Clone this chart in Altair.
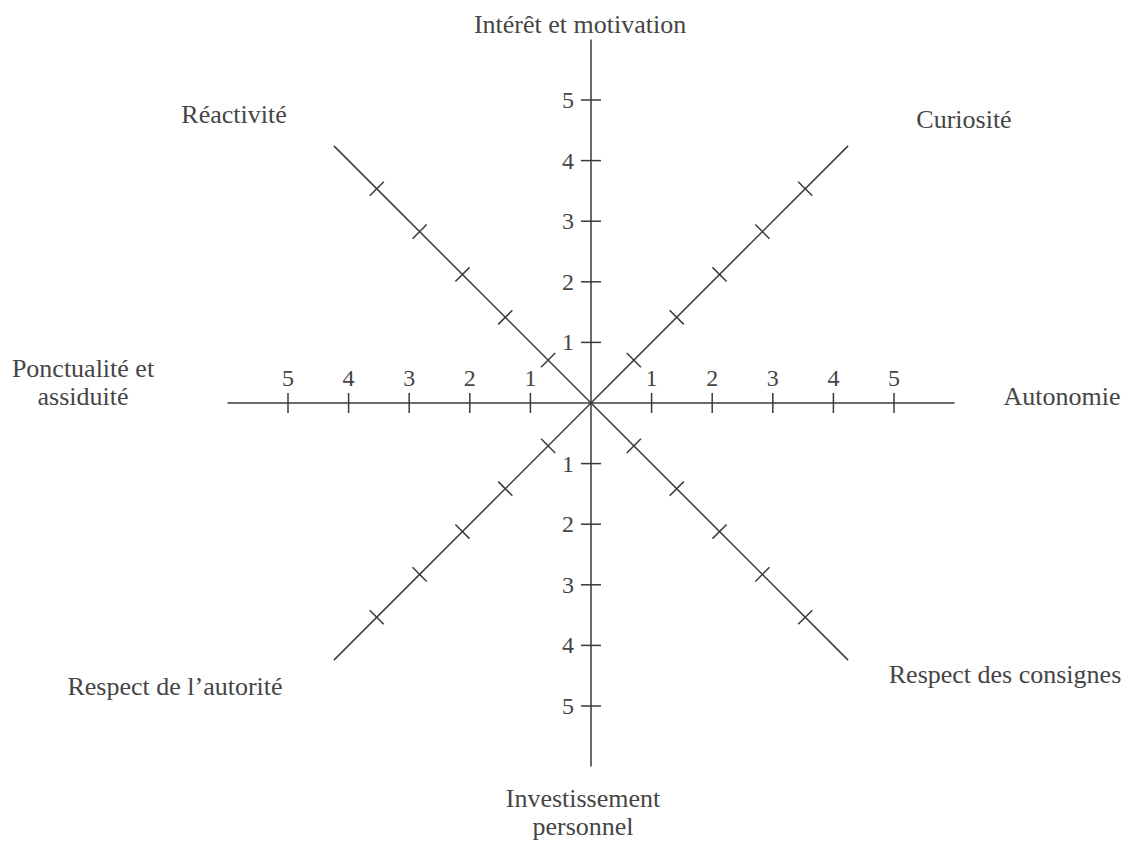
import altair as alt
import numpy as np
import pandas as pd

# ---- data ----
categories = [
    "Intérêt et motivation",
    "Curiosité",
    "Autonomie",
    "Respect des consignes",
    "Investissement\npersonnel",
    "Respect de l’autorité",
    "Ponctualité et\nassiduité",
    "Réactivité",
]
angles_deg = [90, 45, 0, -45, -90, -135, 180, 135]
tick_values = [1, 2, 3, 4, 5]
axis_length = 6
horizontal_axes = ["Autonomie", "Ponctualité et\nassiduité"]
vertical_axes = ["Intérêt et motivation", "Investissement\npersonnel"]

# ---- layout (pixels on the page) ----
PX = 60.6            # pixels per unit
CX, CY = 591, 403    # centre of the diagram on the page
W, H = 1114, 832
label_anchor_px = {
    "Intérêt et motivation": (580, 33),
    "Curiosité": (964, 128),
    "Autonomie": (1062, 405),
    "Respect des consignes": (1005, 683),
    "Investissement\npersonnel": (583, 807),
    "Respect de l’autorité": (175, 695),
    "Ponctualité et\nassiduité": (83, 377),
    "Réactivité": (234, 123),
}

def to_ux(px):
    return (px - CX) / PX

def to_uy(py):
    return (CY - py) / PX

x_dom = [to_ux(8), to_ux(8 + W)]
y_dom = [to_uy(8 + H), to_uy(8)]
xs = alt.Scale(domain=x_dom, nice=False, zero=False)
ys = alt.Scale(domain=y_dom, nice=False, zero=False)

LINE = "#3a3a3a"
TEXT = "#454545"
FONT = "Liberation Serif"

# axes
axes_rows = []
for cat, a in zip(categories, angles_deg):
    r = np.deg2rad(a)
    axes_rows.append(dict(cat=cat, x=0.0, y=0.0,
                          x2=axis_length * np.cos(r), y2=axis_length * np.sin(r)))
axes_df = pd.DataFrame(axes_rows)

# ticks
h = 10 / PX
tick_rows = []
for cat, a in zip(categories, angles_deg):
    r = np.deg2rad(a)
    ux, uy = np.cos(r), np.sin(r)
    pxv, pyv = -uy, ux
    for v in tick_values:
        cx, cy = v * ux, v * uy
        tick_rows.append(dict(cat=cat, v=v, x=cx - h * pxv, y=cy - h * pyv,
                              x2=cx + h * pxv, y2=cy + h * pyv))
tick_df = pd.DataFrame(tick_rows)

# tick labels
hl_rows, vl_rows = [], []
for cat, a in zip(categories, angles_deg):
    r = np.deg2rad(a)
    for v in tick_values:
        if cat in horizontal_axes:
            hl_rows.append(dict(x=v * np.cos(r), y=0.0, t=str(v)))
        elif cat in vertical_axes:
            vl_rows.append(dict(x=0.0, y=v * np.sin(r), t=str(v)))
hl_df = pd.DataFrame(hl_rows)
vl_df = pd.DataFrame(vl_rows)

# category labels
cat_df = pd.DataFrame([
    dict(cat=c, x=to_ux(label_anchor_px[c][0]), y=to_uy(label_anchor_px[c][1]))
    for c in categories
])

axes_layer = alt.Chart(axes_df).mark_rule(color=LINE, strokeWidth=1.5).encode(
    x=alt.X("x:Q", scale=xs, axis=None),
    y=alt.Y("y:Q", scale=ys, axis=None),
    x2="x2:Q", y2="y2:Q",
)

tick_layer = alt.Chart(tick_df).mark_rule(color=LINE, strokeWidth=1.5).encode(
    x=alt.X("x:Q", scale=xs, axis=None),
    y=alt.Y("y:Q", scale=ys, axis=None),
    x2="x2:Q", y2="y2:Q",
)

hl_layer = alt.Chart(hl_df).mark_text(
    font=FONT, fontSize=24, color=TEXT, align="center", baseline="alphabetic", dy=-17
).encode(
    x=alt.X("x:Q", scale=xs, axis=None),
    y=alt.Y("y:Q", scale=ys, axis=None),
    text="t:N",
)

vl_layer = alt.Chart(vl_df).mark_text(
    font=FONT, fontSize=24, color=TEXT, align="right", baseline="middle", dx=-17, dy=1
).encode(
    x=alt.X("x:Q", scale=xs, axis=None),
    y=alt.Y("y:Q", scale=ys, axis=None),
    text="t:N",
)

cat_layer = alt.Chart(cat_df).mark_text(
    font=FONT, fontSize=26, color=TEXT, align="center", baseline="alphabetic",
    lineBreak="\n", lineHeight=28
).encode(
    x=alt.X("x:Q", scale=xs, axis=None),
    y=alt.Y("y:Q", scale=ys, axis=None),
    text="cat:N",
)

chart = alt.layer(axes_layer, tick_layer, hl_layer, vl_layer, cat_layer).properties(
    width=W, height=H, padding=0, autosize=alt.AutoSizeParams(type="none"),
    background="white",
).configure_view(stroke=None)

chart.save("out.html", embed_options={"renderer": "svg", "actions": False})
